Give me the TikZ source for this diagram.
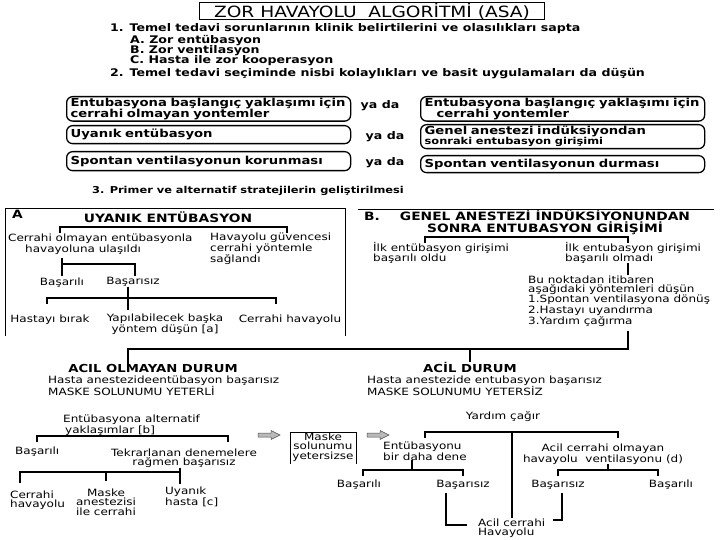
\documentclass[tikz,border=0pt]{standalone}
\usepackage{fontspec}
\setmainfont{DejaVu Sans}[FakeStretch=1.2]
\usetikzlibrary{calc}

\tikzset{
  txt/.style={inner sep=0pt, align=left, font=\fontsize{10}{9.5}\selectfont},
  bld/.style={inner sep=0pt, align=left, font=\bfseries\fontsize{10.5}{10}\selectfont},
  hd/.style={inner sep=0pt, align=center, font=\bfseries\fontsize{11.5}{10}\selectfont},
  rbox/.style={draw, line width=1.3pt, rounded corners=6pt, anchor=north west,
    inner xsep=4pt, inner ysep=1pt, minimum width=284pt, text width=276pt,
    align=left, font=\bfseries\fontsize{11}{10}\selectfont},
  lnk/.style={line width=1.6pt},
  thin/.style={line width=0.9pt},
}

\newcommand{\brk}[2]{% bracket between (#1) and (#2), ticks hanging down
  \draw[lnk] ($(#1)+(0,6)$) -- (#1) -- (#2) -- ($(#2)+(0,6)$);
}
\newcommand{\grarr}[1]{% small grey block arrow, tail at (#1)
  \filldraw[fill=gray!55, draw=gray!60!black, line width=0.5pt]
    ($(#1)+(0,-2)$) -- ++(13,0) -- ++(0,-2.5) -- ++(9,4.5)
    -- ++(-9,4.5) -- ++(0,-2.5) -- ++(-13,0) -- cycle;
}

\begin{document}
\begin{tikzpicture}[x=1pt,y=-1pt]
  \useasboundingbox (0,0) rectangle (720,540);

  % heading and steps 1, 2
  \node[draw, thin, minimum width=345pt, minimum height=17pt, inner sep=0pt,
    font=\fontsize{15.5}{16}\selectfont] (title) at (372,11) {ZOR HAVAYOLU\ \ ALGORİTMİ (ASA)};
  \node[bld, anchor=west] (s1) at (110,29) {1. Temel tedavi sorunlarının klinik belirtilerini ve olasılıkları sapta};
  \node[bld, anchor=west] (s1a) at (130,41) {A. Zor entübasyon};
  \node[bld, anchor=west] (s1b) at (130,51) {B. Zor ventilasyon};
  \node[bld, anchor=west] (s1c) at (130,61) {C. Hasta ile zor kooperasyon};
  \node[bld, anchor=west] (s2) at (110,74) {2. Temel tedavi seçiminde nisbi kolaylıkları ve basit uygulamaları da düşün};

  \node[rbox, minimum height=22pt] (bl1) at (66,96) {Entubasyona başlangıç yaklaşımı için\\cerrahi olmayan yontemler};
  \node[rbox, minimum height=18pt] (bl2) at (66,125) {Uyanık entübasyon};
  \node[rbox, minimum height=19pt] (bl3) at (66,151) {Spontan ventilasyonun korunması};
  \node[rbox, minimum height=22pt] (br1) at (420,96) {Entubasyona başlangıç yaklaşımı için\\\hspace*{12pt}cerrahi yontemler};
  \node[rbox, minimum height=24pt] (br2) at (420,124) {Genel anestezi indüksiyondan\\{\fontsize{9.5}{10}\selectfont sonraki entubasyon girişimi}};
  \node[rbox, minimum height=17pt] (br3) at (420,155) {Spontan ventilasyonun durması};
  \node[bld] (yada1) at (380,106) {ya da};
  \node[bld] (yada2) at (385,137) {ya da};
  \node[bld] (yada3) at (385,163) {ya da};

  \node[bld, anchor=west, font=\bfseries\fontsize{9.5}{10}\selectfont] (s3) at (92,191) {3. Primer ve alternatif stratejilerin geliştirilmesi};

  % A: uyanik entubasyon
  \draw[thin] (5,336) |- (345,208) -- (345,336);
  \node[hd, anchor=west] (lblA) at (12,214) {A};
  \node[hd] (uyanik) at (168,217) {UYANIK ENTÜBASYON};
  \coordinate (ua1) at (60,227); \coordinate (ua2) at (287,227);
  \brk{ua1}{ua2}
  \node[txt, anchor=west] (cerr) at (8,244) {Cerrahi olmayan entübasyonla\\\hspace*{17pt}havayoluna ulaşıldı};
  \node[txt, anchor=west] (guv) at (210,249) {Havayolu güvencesi\\cerrahi yöntemle\\sağlandı};
  \coordinate (ba1) at (62,258); \coordinate (ba2) at (135,276);
  \draw[lnk] (ba1) -- (ba1 |- ba2);
  \draw[lnk] ($(ba1)+(0,6)$) -| (ba2);
  \node[txt] (basA1) at (62,283) {Başarılı};
  \node[txt] (basA2) at (133,282) {Başarısız};
  \coordinate (bb1) at (47,298); \coordinate (bb2) at (276,298); \coordinate (bb3) at (128,310);
  \brk{bb1}{bb2}
  \draw[lnk] (bb3 |- basA2.south) -- (bb3);
  \node[txt] (birak) at (50,320) {Hastayı bırak};
  \node[txt, align=center] (yapil) at (165,324) {Yapılabilecek başka\\yöntem düşün [a]};
  \node[txt] (cerhA) at (290,320) {Cerrahi havayolu};

  % B: genel anestezi sonrasi
  \coordinate (tb1) at (358,209); \coordinate (tb2) at (714,209);
  \draw[thin] (tb1) -- (tb2);
  \node[hd, anchor=west] (lblB) at (364,216) {B.};
  \node[hd] (genel) at (545,222) {GENEL ANESTEZİ İNDÜKSİYONUNDAN\\SONRA ENTUBASYON GİRİŞİMİ};
  \coordinate (gb1) at (425,237); \coordinate (gb2) at (628,237);
  \brk{gb1}{gb2}
  \node[txt, anchor=west] (ilkok) at (373,253) {İlk entübasyon girişimi\\başarılı oldu};
  \node[txt, anchor=west] (ilkno) at (565,253) {İlk entubasyon girişimi\\başarılı olmadı};
  \node[txt, anchor=west, font=\fontsize{10}{9}\selectfont] (noktadan) at (528,301)
    {Bu noktadan itibaren\\aşağıdaki yöntemleri düşün\\1.Spontan ventilasyona dönüş\\2.Hastayı uyandırma\\3.Yardım çağırma};
  \coordinate (v1) at (628,263);
  \draw[lnk] (v1) -- (v1 |- noktadan.north);

  \node[hd, font=\bfseries\fontsize{11}{10}\selectfont] (ao) at (153,368) {ACIL OLMAYAN DURUM};
  \node[txt, anchor=west] (aoTxt) at (48,386) {Hasta anestezideentübasyon başarısız\\MASKE SOLUNUMU YETERLİ};
  \node[hd, font=\bfseries\fontsize{11}{10}\selectfont] (ad) at (470,367) {ACİL DURUM};
  \node[txt, anchor=west] (adTxt) at (367,386) {Hasta anestezide entubasyon başarısız\\MASKE SOLUNUMU YETERSİZ};
  \coordinate (j1) at (628,349); \coordinate (j2) at (128,349); \coordinate (j3) at (470,349);
  \draw[lnk] ($(noktadan.south -| j1)+(0,4)$) -- (j1) -- (j2) -- (j2 |- ao.north);
  \draw[lnk] (j3) -- (j3 |- ad.north);

  % acil olmayan durum
  \node[txt, anchor=west] (altern) at (63,425) {Entübasyona alternatif\\\hspace*{2pt}yaklaşımlar [b]};
  \coordinate (al1) at (37,436); \coordinate (al2) at (228,436);
  \brk{al1}{al2}
  \node[txt, anchor=west] (basC1) at (15,452) {Başarılı};
  \node[txt, align=center] (tekrar) at (184,458) {Tekrarlanan denemelere\\rağmen başarısız};
  \coordinate (tk1) at (20,472); \coordinate (tk2) at (180,472); \coordinate (tk3) at (106,472);
  \draw[lnk] ($(tk1)+(0,11)$) -- (tk1) -- (tk2);
  \draw[lnk] (tk2 |- tekrar.south) -- ++(0,16);
  \draw[lnk] (tk3) -- ++(0,9);
  \node[txt, anchor=west] (cerhC) at (10,500) {Cerrahi\\havayolu};
  \node[txt, align=center] (maskeC) at (106,502) {Maske\\anestezisi\\ile cerrahi};
  \node[txt, anchor=west] (uyanC) at (165,497) {Uyanık\\hasta [c]};

  \grarr{258,435}
  \draw[thin] (290,464) |- (356,432) -- (356,464);
  \node[txt, align=center] (maskeBox) at (323,447) {Maske\\solunumu\\yetersizse};
  \grarr{367,435}

  % acil durum
  \node[txt] (yardim) at (503,417) {Yardım çağır};
  \node[txt, anchor=west] (acilCer) at (478,528) {Acil cerrahi\\Havayolu};
  \coordinate (yc1) at (425,432); \coordinate (yc2) at (618,432); \coordinate (yc3) at (512,432);
  \brk{yc1}{yc2}
  \draw[lnk] (yc3) -- (yc3 |- acilCer.north);
  \node[txt, anchor=west] (dene) at (383,451) {Entübasyonu\\bir daha dene};
  \node[txt, align=center] (acilNon) at (603,454) {Acil cerrahi olmayan\\havayolu\ \ ventilasyonu (d)};
  \coordinate (dl1) at (363,470); \coordinate (dl2) at (463,470); \coordinate (dl3) at (412,470);
  \brk{dl1}{dl2}
  \draw[lnk] (dl3 |- dene.south) -- (dl3);
  \coordinate (dr1) at (558,470); \coordinate (dr2) at (658,470); \coordinate (dr3) at (608,470);
  \brk{dr1}{dr2}
  \draw[lnk] (dr3 |- acilNon.south) -- (dr3);
  \node[txt] (basD1) at (359,485) {Başarılı};
  \node[txt] (basD2) at (463,485) {Başarısız};
  \node[txt] (basD3) at (558,485) {Başarısız};
  \node[txt] (basD4) at (671,485) {Başarılı};
  \coordinate (lc1) at (446,525); \coordinate (rc1) at (562,520);
  \draw[lnk] ($(lc1 |- basD2.south)+(0,3)$) -- (lc1) -- ++(21,0);
  \draw[lnk] ($(rc1 |- basD3.south)+(0,3)$) -- (rc1) -- ++(-9,0);
\end{tikzpicture}
\end{document}
